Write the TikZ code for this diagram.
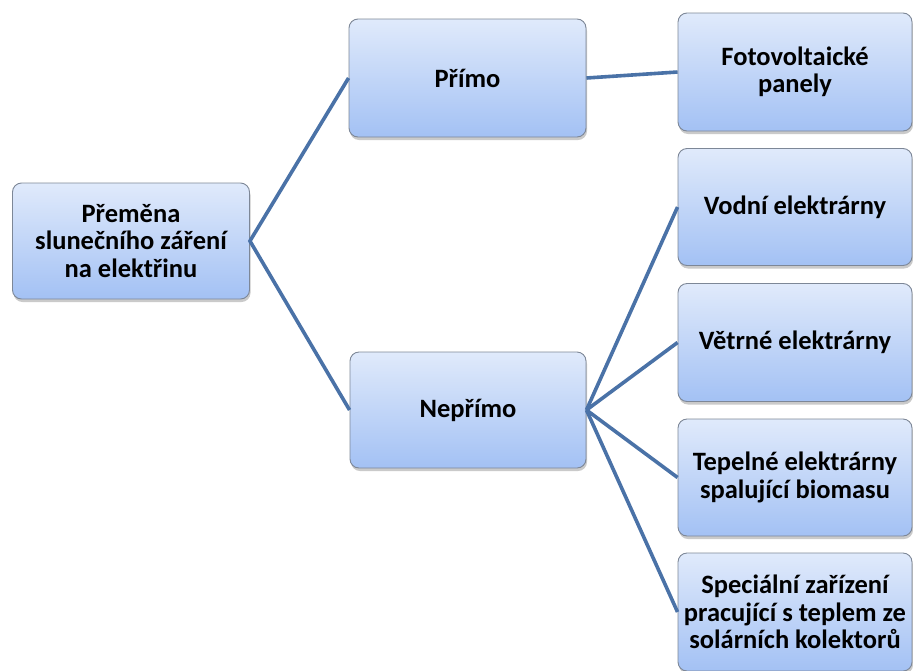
\documentclass[tikz,border=0pt]{standalone}
\usepackage{fontspec}
\setmainfont{Carlito}
\usetikzlibrary{shadows}
\definecolor{boxtop}{HTML}{E0EAFB}
\definecolor{boxbot}{HTML}{A3C1F4}
\definecolor{boxline}{HTML}{7D8797}
\definecolor{conn}{HTML}{4A72A7}
\tikzset{
  box/.style={draw=boxline, line width=0.9pt, rounded corners=9pt,
    top color=boxtop, bottom color=boxbot, align=center,
    font=\bfseries\fontsize{26.5}{27.3}\selectfont, inner sep=0pt,
    drop shadow={shadow xshift=1pt, shadow yshift=-3pt, opacity=0.35, fill=black!60}},
  conn/.style={draw=conn, line width=3.6pt}
}
\begin{document}
\begin{tikzpicture}[x=1pt,y=-1pt]
\useasboundingbox (0,0) rectangle (913,670);
\node[box, minimum width=237pt, minimum height=116pt] (root) at (131,241) {Přeměna\\slunečního záření\\na elektřinu};
\node[box, minimum width=237pt, minimum height=118pt] (primo) at (467.5,78) {Přímo};
\node[box, minimum width=236pt, minimum height=116pt] (neprimo) at (468,410) {Nepřímo};
\node[box, minimum width=234pt, minimum height=118pt] (foto) at (795,72) {Fotovoltaické\\panely};
\node[box, minimum width=234pt, minimum height=117pt] (vodni) at (795,207) {Vodní elektrárny};
\node[box, minimum width=234pt, minimum height=118pt] (vetrne) at (795,342.5) {Větrné elektrárny};
\node[box, minimum width=234pt, minimum height=117pt] (tepelne) at (795,477.5) {Tepelné elektrárny\\spalující biomasu};
\node[box, minimum width=234pt, minimum height=118pt] (special) at (795,612) {Speciální zařízení\\pracující s teplem ze\\solárních kolektorů};
\draw[conn] (primo.west) -- (root.east) -- (neprimo.west);
\draw[conn] (primo.east) -- (foto.west);
\draw[conn] (neprimo.east) -- (vodni.west);
\draw[conn] (neprimo.east) -- (vetrne.west);
\draw[conn] (neprimo.east) -- (tepelne.west);
\draw[conn] (neprimo.east) -- (special.west);
\end{tikzpicture}
\end{document}
